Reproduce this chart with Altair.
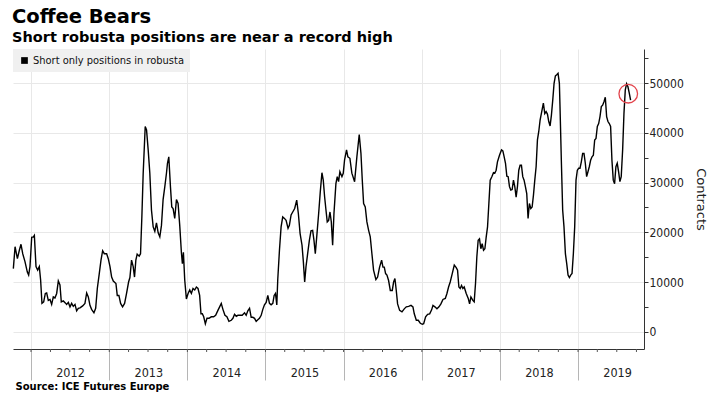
import altair as alt
import pandas as pd

# ---- data (decimal year, contracts) ----
dec_years = [
    2011.774, 2011.796, 2011.826, 2011.851, 2011.872, 2011.894, 2011.923, 2011.953, 2011.970, 2011.987,
    2012.009, 2012.030, 2012.043, 2012.064, 2012.085, 2012.106, 2012.123, 2012.140, 2012.162, 2012.183,
    2012.200, 2012.221, 2012.243, 2012.264, 2012.285, 2012.306, 2012.328, 2012.349, 2012.370, 2012.387,
    2012.413, 2012.438, 2012.455, 2012.477, 2012.498, 2012.519, 2012.540, 2012.562, 2012.583, 2012.604,
    2012.626, 2012.660, 2012.689, 2012.711, 2012.732, 2012.753, 2012.774, 2012.804, 2012.826, 2012.847,
    2012.872, 2012.894, 2012.915, 2012.936, 2012.966, 2012.987, 2013.009, 2013.030, 2013.051, 2013.085,
    2013.102, 2013.123, 2013.145, 2013.170, 2013.196, 2013.221, 2013.247, 2013.264, 2013.285, 2013.306,
    2013.323, 2013.340, 2013.357, 2013.383, 2013.400, 2013.417, 2013.434, 2013.460, 2013.477, 2013.498,
    2013.519, 2013.540, 2013.562, 2013.583, 2013.604, 2013.626, 2013.647, 2013.668, 2013.689, 2013.711,
    2013.732, 2013.745, 2013.762, 2013.783, 2013.800, 2013.817, 2013.838, 2013.860, 2013.881, 2013.902,
    2013.923, 2013.936, 2013.949, 2013.966, 2013.987, 2014.009, 2014.030, 2014.051, 2014.072, 2014.094,
    2014.115, 2014.136, 2014.157, 2014.174, 2014.191, 2014.209, 2014.230, 2014.251, 2014.277, 2014.306,
    2014.336, 2014.362, 2014.391, 2014.413, 2014.434, 2014.455, 2014.481, 2014.506, 2014.532, 2014.562,
    2014.583, 2014.604, 2014.626, 2014.647, 2014.668, 2014.702, 2014.732, 2014.753, 2014.774, 2014.796,
    2014.817, 2014.838, 2014.860, 2014.881, 2014.902, 2014.923, 2014.945, 2014.966, 2014.987, 2015.009,
    2015.030, 2015.051, 2015.072, 2015.094, 2015.111, 2015.128, 2015.145, 2015.157, 2015.179, 2015.200,
    2015.221, 2015.243, 2015.264, 2015.289, 2015.306, 2015.328, 2015.349, 2015.374, 2015.400, 2015.421,
    2015.443, 2015.468, 2015.485, 2015.502, 2015.519, 2015.540, 2015.562, 2015.583, 2015.604, 2015.621,
    2015.638, 2015.660, 2015.681, 2015.702, 2015.723, 2015.740, 2015.757, 2015.774, 2015.791, 2015.809,
    2015.826, 2015.843, 2015.860, 2015.877, 2015.902, 2015.919, 2015.936, 2015.953, 2015.979, 2015.996,
    2016.013, 2016.038, 2016.055, 2016.081, 2016.106, 2016.141, 2016.170, 2016.200, 2016.222, 2016.239,
    2016.256, 2016.277, 2016.298, 2016.320, 2016.341, 2016.362, 2016.383, 2016.413, 2016.435, 2016.460,
    2016.486, 2016.503, 2016.520, 2016.537, 2016.554, 2016.575, 2016.597, 2016.622, 2016.639, 2016.656,
    2016.673, 2016.690, 2016.716, 2016.746, 2016.775, 2016.801, 2016.831, 2016.861, 2016.886, 2016.903,
    2016.929, 2016.954, 2016.980, 2017.006, 2017.023, 2017.048, 2017.074, 2017.100, 2017.125, 2017.142,
    2017.167, 2017.193, 2017.219, 2017.244, 2017.270, 2017.300, 2017.321, 2017.342, 2017.363, 2017.389,
    2017.415, 2017.440, 2017.457, 2017.474, 2017.491, 2017.508, 2017.525, 2017.542, 2017.568, 2017.594,
    2017.611, 2017.628, 2017.653, 2017.670, 2017.687, 2017.704, 2017.721, 2017.738, 2017.755, 2017.772,
    2017.790, 2017.807, 2017.824, 2017.841, 2017.858, 2017.875, 2017.896, 2017.917, 2017.934, 2017.951,
    2017.968, 2017.994, 2018.020, 2018.037, 2018.054, 2018.071, 2018.088, 2018.105, 2018.122, 2018.139,
    2018.156, 2018.173, 2018.190, 2018.207, 2018.224, 2018.241, 2018.258, 2018.275, 2018.292, 2018.309,
    2018.326, 2018.343, 2018.360, 2018.377, 2018.395, 2018.412, 2018.429, 2018.446, 2018.463, 2018.480,
    2018.497, 2018.514, 2018.535, 2018.556, 2018.574, 2018.591, 2018.608, 2018.625, 2018.642, 2018.659,
    2018.676, 2018.693, 2018.710, 2018.727, 2018.744, 2018.761, 2018.769, 2018.786, 2018.803, 2018.820,
    2018.838, 2018.855, 2018.872, 2018.889, 2018.906, 2018.923, 2018.940, 2018.957, 2018.974, 2018.991,
    2019.008, 2019.025, 2019.042, 2019.059, 2019.076, 2019.093, 2019.110, 2019.127, 2019.144, 2019.161,
    2019.179, 2019.196, 2019.213, 2019.230, 2019.247, 2019.264, 2019.281, 2019.298, 2019.315, 2019.332,
    2019.349, 2019.366, 2019.383, 2019.400, 2019.417, 2019.434, 2019.451, 2019.468, 2019.485, 2019.502,
    2019.519, 2019.536, 2019.553, 2019.571, 2019.588, 2019.605, 2019.622, 2019.639, 2019.656, 2019.673,
]

contracts = [
    12700, 17100, 14700, 16400, 17600, 15700, 14100, 12000, 11400, 13100,
    19000, 19100, 19400, 13100, 12400, 13100, 10400, 5700, 6000, 7700,
    7800, 6300, 6500, 5500, 7000, 6800, 7700, 10200, 9400, 6000,
    6200, 5800, 5500, 5900, 5000, 5700, 5100, 5500, 4200, 4700,
    4800, 5200, 5700, 7800, 7000, 5300, 4500, 3800, 4700, 8700,
    11700, 14400, 16300, 15700, 15700, 14700, 13100, 11000, 10200, 9700,
    7300, 7300, 5700, 5000, 5700, 7700, 10000, 10900, 14400, 13100,
    11000, 14400, 15600, 15200, 15700, 23100, 31900, 41300, 40600, 36600,
    31900, 24500, 21100, 20200, 21900, 19900, 19100, 21400, 26600, 29200,
    31900, 33900, 35200, 29200, 25100, 24800, 22800, 26600, 25800, 21400,
    16000, 13700, 16000, 10400, 6600, 7700, 8400, 7700, 8700, 8400,
    9000, 8700, 7300, 3600, 3600, 3000, 1600, 2700, 2700, 3000,
    3000, 3300, 4300, 5000, 5700, 4500, 3300, 3000, 2100, 2300,
    2700, 3500, 3100, 3300, 3300, 3300, 3800, 3300, 4200, 4700,
    2900, 2900, 2700, 2100, 2400, 2700, 3300, 4500, 5400, 5900,
    7300, 5700, 5400, 5700, 7300, 7700, 5400, 10400, 16400, 21100,
    23100, 22800, 22400, 20800, 21400, 23500, 24100, 24800, 26500, 23800,
    19800, 17400, 14100, 10000, 13100, 15700, 18400, 20300, 20400, 18400,
    15700, 19800, 23800, 28200, 32000, 30500, 27200, 24600, 22100, 22400,
    24100, 22100, 17400, 23800, 29800, 31200, 30200, 32200, 31200, 31900,
    34600, 36600, 35200, 34900, 31900, 30200, 35200, 39700, 35900, 30500,
    25800, 25100, 22100, 20400, 19100, 15700, 12400, 10500, 11000, 13000,
    14400, 13000, 13000, 11700, 11400, 10300, 8300, 8300, 10000, 10700,
    8300, 5600, 4300, 4000, 4600, 5000, 5100, 5300, 5000, 3600,
    2300, 2300, 1700, 1500, 1600, 3000, 3500, 3600, 4400, 5300,
    5000, 4600, 5000, 5600, 6500, 6700, 7700, 9000, 10000, 11700,
    13400, 12900, 12400, 9000, 8700, 9300, 8700, 9000, 7700, 6700,
    5600, 7000, 6300, 6000, 9700, 15100, 18400, 18700, 16700, 17700,
    16400, 16700, 19100, 21100, 25800, 30500, 31200, 32000, 31900, 32500,
    34200, 35500, 36600, 36400, 35200, 33900, 31300, 31200, 29200, 28500,
    28600, 30500, 29200, 27100, 29200, 32500, 33500, 33500, 31200, 30500,
    29200, 27800, 22800, 25800, 24800, 25100, 27500, 30500, 33200, 38600,
    40300, 42600, 44300, 46000, 43900, 44300, 43800, 42300, 41400, 43600,
    46600, 50000, 51500, 51700, 52000, 50000, 45300, 34500, 24500, 21100,
    15700, 13700, 11400, 10900, 11400, 11700, 15700, 21100, 30500, 32500,
    32900, 32900, 34200, 35900, 35900, 33900, 31200, 32200, 33200, 34500,
    35200, 35500, 38600, 38900, 41300, 41900, 43300, 45300, 45600, 46300,
    47200, 43300, 42300, 41900, 41300, 34500, 30500, 29800, 33200, 33900,
    32200, 30200, 31200, 36600, 43900, 48700, 49900, 49300, 48000, 46600,
]

series_name = "Short only positions in robusta"
highlight_dec_year = [2019.643]
highlight_value = [47900]
axis_years = [2012, 2013, 2014, 2015, 2016, 2017, 2018, 2019]
quarter_months = [1, 4, 7, 10]
x_domain_dec = [2011.7696, 2019.8446]
y_domain = [-3480, 56900]
y_ticks = [0, 5000, 10000, 15000, 20000, 25000, 30000, 35000, 40000, 45000, 50000, 55000]


def to_ts(t):
    y = int(t)
    a = pd.Timestamp(year=y, month=1, day=1)
    b = pd.Timestamp(year=y + 1, month=1, day=1)
    return a + (b - a) * (t - y)


def iso(ts):
    return ts.strftime("%Y-%m-%dT%H:%M:%S")


def dt(ts):
    return alt.DateTime(year=ts.year, month=ts.month, date=ts.day,
                        hours=ts.hour, minutes=ts.minute)


line_df = pd.DataFrame({
    "date": [iso(to_ts(t)) for t in dec_years],
    "value": contracts,
    "series": series_name,
})
hl_df = pd.DataFrame({
    "date": [iso(to_ts(t)) for t in highlight_dec_year],
    "value": highlight_value,
})
q_df = pd.DataFrame({
    "date": [f"{y}-{m:02d}-01T00:00:00" for y in axis_years for m in quarter_months]
})

x_scale = alt.Scale(domain=[dt(to_ts(v)) for v in x_domain_dec])
y_scale = alt.Scale(domain=y_domain, nice=False, zero=False)

LABEL_FONT = "DejaVu Sans Condensed"

x_axis = alt.Axis(
    values=[alt.DateTime(year=y, month=1, date=1) for y in axis_years],
    format="%Y",
    labelOffset=39,
    labelPadding=-14,
    labelFont=LABEL_FONT,
    labelFontSize=12.5,
    labelColor="#222222",
    tickSize=31,
    tickColor="#b5b5b5",
    tickWidth=1,
    grid=True,
    gridColor="#e8e8e8",
    domainColor="#333333",
    domainWidth=1,
    title="Source: ICE Futures Europe",
    titleX=2,
    titleY=40,
    titleAlign="left",
    titleBaseline="alphabetic",
    titleFont="DejaVu Sans",
    titleFontSize=10,
    titleFontWeight="bold",
    titleColor="#000000",
)

y_axis = alt.Axis(
    orient="right",
    values=y_ticks,
    format="d",
    labelExpr="datum.value % 10000 === 0 ? datum.label : ''",
    labelFont=LABEL_FONT,
    labelFontSize=12,
    labelColor="#222222",
    labelPadding=1,
    tickSize=4,
    tickColor="#333333",
    domainColor="#333333",
    grid=True,
    gridColor="#e8e8e8",
    gridOpacity={"condition": {"test": "datum.value % 10000 === 0", "value": 1}, "value": 0},
    title="Contracts",
    titleFont="DejaVu Sans",
    titleFontSize=13,
    titleFontWeight="normal",
    titleColor="#222222",
    titlePadding=10,
    titleAngle=90,
)

line = alt.Chart(line_df).mark_line(strokeWidth=1.4, interpolate="linear").encode(
    x=alt.X("date:T", scale=x_scale, axis=x_axis),
    y=alt.Y("value:Q", scale=y_scale, axis=y_axis),
    color=alt.Color(
        "series:N",
        scale=alt.Scale(range=["#000000"]),
        legend=alt.Legend(
            orient="none", legendX=0, legendY=0, title=None,
            fillColor="#f0f0f0", padding=6,
            symbolType="square", symbolSize=45,
            symbolFillColor="#000000", symbolStrokeWidth=0,
            labelFont="DejaVu Sans Condensed", labelFontSize=11,
            labelColor="#111111", labelOffset=3,
        ),
    ),
)

quarters = alt.Chart(q_df).mark_rule(color="#555555", strokeWidth=1).encode(
    x=alt.X("date:T", scale=x_scale, axis=x_axis),
    y=alt.value(300),
    y2=alt.value(303),
)

highlight = alt.Chart(hl_df).mark_point(
    shape="circle", filled=False, size=346, color="#e2434b", strokeWidth=1.3, opacity=1
).encode(
    x=alt.X("date:T", scale=x_scale, axis=x_axis),
    y=alt.Y("value:Q", scale=y_scale, axis=y_axis),
)

chart = alt.layer(line, quarters, highlight).properties(
    width=631,
    height=300,
    autosize=alt.AutoSizeParams(type="none"),
    padding={"left": 5, "top": 41, "right": 68, "bottom": 43},
    background="white",
    title=alt.TitleParams(
        text="Coffee Bears",
        subtitle="Short robusta positions are near a record high",
        anchor="start", frame="group", dx=-1, offset=4,
        font="DejaVu Sans", fontSize=19.5, fontWeight="bold", color="#000000",
        subtitleFont="DejaVu Sans", subtitleFontSize=14.5,
        subtitleFontWeight="bold", subtitleColor="#000000", subtitlePadding=3,
    ),
).configure_view(stroke=None)

chart.save("out.html", embed_options={"renderer": "svg", "actions": False})
